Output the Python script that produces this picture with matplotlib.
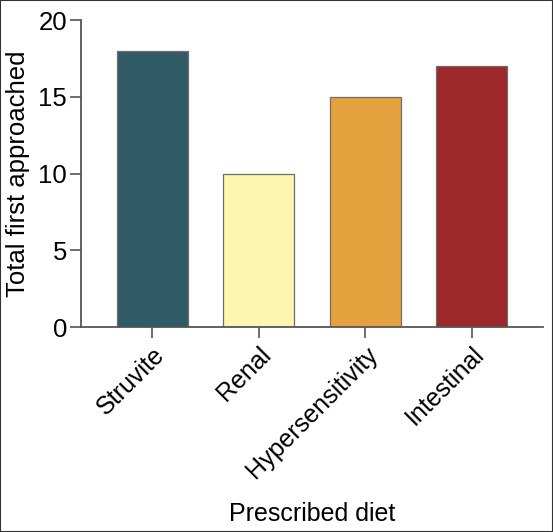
import matplotlib
matplotlib.use("Agg")
import matplotlib.pyplot as plt

categories = ["Struvite", "Renal", "Hypersensitivity", "Intestinal"]
values = [18, 10, 15, 17]
colors = ["#305a66", "#fdf5b0", "#e4a23f", "#9e272b"]
yticks = [0, 5, 10, 15, 20]

plt.rcParams['font.family'] = ['Liberation Sans', 'DejaVu Sans']

fig = plt.figure(figsize=(5.53, 5.32), dpi=100)
ax = fig.add_axes([0.1465, 0.3853, 0.8355, 0.5771])
x = list(range(len(categories)))
ax.bar(x, values, width=0.667, color=colors, edgecolor="#6e6e6e", linewidth=0.9)
ax.set_xlim(-0.667, 3.667)
ax.set_ylim(0, 20)
ax.set_yticks(yticks)
ax.set_xticks(x)
ax.set_xticklabels(categories, rotation=45, ha="right", rotation_mode="anchor")
ax.tick_params(axis="y", labelsize=18.5, length=8, width=1.2, color="#555555", pad=2)
ax.tick_params(axis="x", labelsize=18, length=8, width=1.2, color="#555555", pad=3)
for s in ["top", "right"]:
    ax.spines[s].set_visible(False)
for s in ["left", "bottom"]:
    ax.spines[s].set_color("#555555")
    ax.spines[s].set_linewidth(1.3)
ax.set_ylabel("Total first approached", fontsize=18.5, labelpad=6)
ax.set_xlabel("Prescribed diet", fontsize=18, labelpad=14)

fig.patches.append(matplotlib.patches.Rectangle((0, 0), 1, 1, transform=fig.transFigure,
                   fill=False, edgecolor="#333333", linewidth=1.5))
fig.savefig("out.png", dpi=100)
